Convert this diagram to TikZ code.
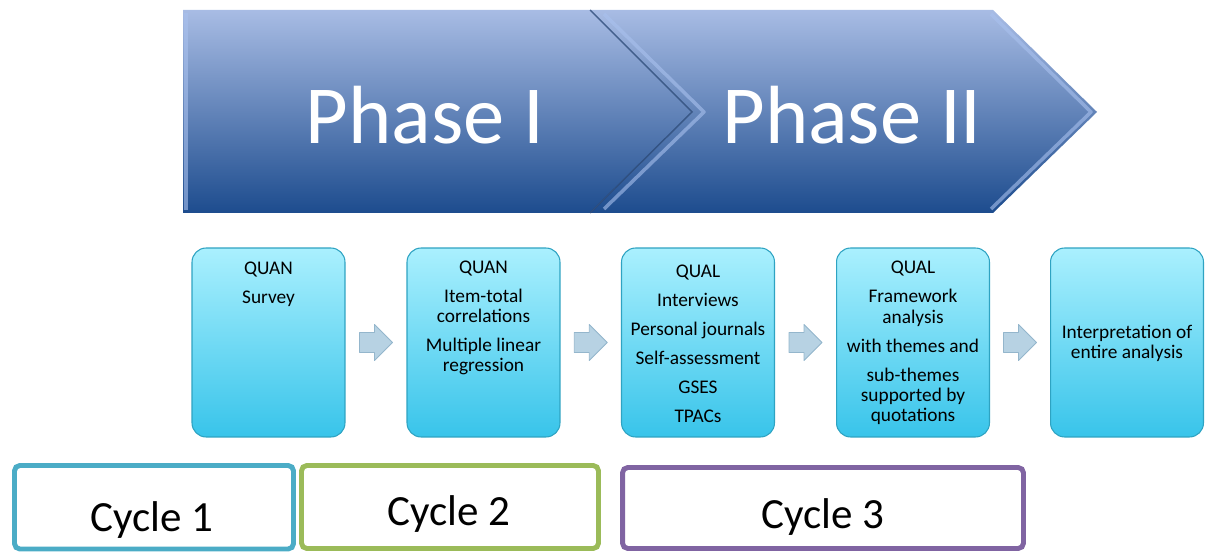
\documentclass[tikz,border=0pt]{standalone}
\usepackage{fontspec}
\setmainfont{Carlito}
\usetikzlibrary{calc}

\definecolor{chevtop}{HTML}{A8BCE4}
\definecolor{chevbot}{HTML}{1D4C8E}
\definecolor{chevseam}{HTML}{2C4A78}
\definecolor{chevlight}{HTML}{A9C1EE}
\definecolor{boxtop}{HTML}{AAF0FE}
\definecolor{boxbot}{HTML}{38C4EA}
\definecolor{boxline}{HTML}{2EA3C2}
\definecolor{arrfill}{HTML}{B7D2E3}
\definecolor{arrline}{HTML}{94B6CC}
\definecolor{cyc1}{HTML}{4BACC6}
\definecolor{cyc2}{HTML}{9BBB59}
\definecolor{cyc3}{HTML}{8064A2}

\tikzset{
  stepbox/.style={rounded corners=8pt, top color=boxtop, bottom color=boxbot, draw=boxline, line width=0.6pt, minimum width=3.06cm, minimum height=3.78cm},
  steptext/.style={align=center, font=\fontsize{11}{11.5}\selectfont, inner sep=0pt},
  flowarrow/.style={draw=arrline, fill=arrfill, line width=0.5pt, line join=round},
  cyclebox/.style={draw=#1, line width=2.8pt, rounded corners=3pt, fill=white, inner sep=0pt},
  cycletext/.style={font=\fontsize{24.5}{28}\selectfont, anchor=base, inner sep=0pt},
  phasetext/.style={text=white, font=\fontsize{47}{50}\selectfont, inner sep=0pt},
  bevel/.style={draw=chevlight, line width=2pt, opacity=0.6, line join=round}
}

\begin{document}
\begin{tikzpicture}[x=0.02cm, y=-0.02cm]
\useasboundingbox (0,0) rectangle (1213,553);

% phase chevrons
\shade[top color=chevtop, bottom color=chevbot] (590,10) -- (993,10) -- (1097,112) -- (993,213) -- (590,213) -- (692,112) -- cycle;
\shade[top color=chevtop, bottom color=chevbot] (183,10) -- (590,10) -- (692,112) -- (590,213) -- (183,213) -- cycle;
\draw[bevel] (186,13) -- (186,210);
\draw[bevel] (604,14) -- (704,112) -- (604,209);
\draw[bevel] (991,14) -- (1091,112) -- (991,209);
\draw[draw=chevseam, line width=0.8pt, opacity=0.8] (590,10) -- (692,112) -- (590,213);

\node[phasetext] (p1) at (425,115) {Phase I};
\node[phasetext] (p2) at (852,115) {Phase II};

% steps
\node[stepbox] (b1) at (268.5,342.5) {};
\node[stepbox] (b2) at (483.5,342.5) {};
\node[stepbox] (b3) at (698,342.5) {};
\node[stepbox] (b4) at (913,342.5) {};
\node[stepbox] (b5) at (1127,342.5) {};

\node[steptext] (t1) at (268.5,284) {QUAN\\[5pt]Survey};
\node[steptext] (t2) at (483.5,318) {QUAN\\[5pt]Item-total\\correlations\\[5pt]Multiple linear\\regression};
\node[steptext] (t3) at (698,343.5) {QUAL\\[5pt]Interviews\\[5pt]Personal journals\\[5pt]Self-assessment\\[5pt]GSES\\[5pt]TPACs};
\node[steptext] (t4) at (913,343) {QUAL\\[5pt]Framework\\analysis\\[5pt]with themes and\\[5pt]sub-themes\\supported by\\quotations};
\node[steptext] (t5) at (1127,343.5) {Interpretation of\\entire analysis};

\foreach \i/\j in {1/2,2/3,3/4,4/5} {
  \path (b\i.east) -- (b\j.west) coordinate[midway] (m\i);
  \draw[flowarrow] ($(m\i)+(-16.5,-10)$) -- ++(15,0) -- ++(0,-8) -- ++(18,18) -- ++(-18,18) -- ++(0,-8) -- ++(-15,0) -- cycle;
}

% cycles
\node[cyclebox=cyc1, minimum width=5.58cm, minimum height=1.67cm] (c1) at (154,507.25) {};
\node[cyclebox=cyc2, minimum width=5.94cm, minimum height=1.66cm] (c2) at (450,507) {};
\node[cyclebox=cyc3, minimum width=8.02cm, minimum height=1.62cm] (c3) at (823,508) {};

\node[cycletext] (l1) at (152,531) {Cycle 1};
\node[cycletext] (l2) at (449,525) {Cycle 2};
\node[cycletext] (l3) at (823,528) {Cycle 3};
\end{tikzpicture}
\end{document}
